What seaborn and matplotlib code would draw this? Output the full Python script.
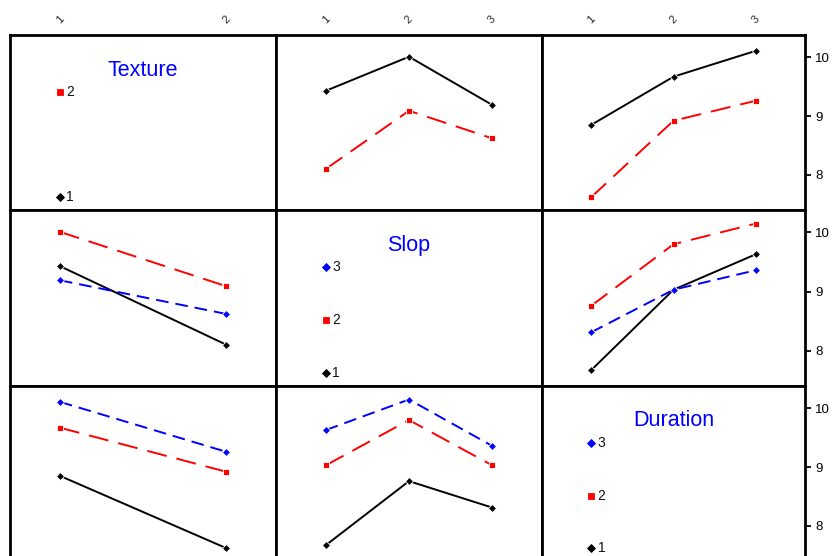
import matplotlib
matplotlib.use("Agg")
import matplotlib.pyplot as plt
import numpy as np
import pandas as pd
import seaborn as sns

# Factors and their levels
factors = ["Texture", "Slop", "Duration"]
texture_levels = ["1", "2"]
slop_levels = ["1", "2", "3"]
duration_levels = ["1", "2", "3"]

# Two-way cell means (rows: levels of first factor, cols: levels of second)
texture_by_slop = [[9.43, 10.01, 9.19],
                   [8.10, 9.09, 8.62]]
texture_by_duration = [[8.85, 9.67, 10.11],
                       [7.62, 8.92, 9.26]]
slop_by_duration = [[7.67, 9.03, 9.63],
                    [8.76, 9.80, 10.15],
                    [8.31, 9.03, 9.36]]

y_ticks = [8, 9, 10]

sns.set_theme(style="white")
plt.rcParams["font.family"] = ["Liberation Sans", "DejaVu Sans"]

levels = {"Texture": texture_levels, "Slop": slop_levels, "Duration": duration_levels}
tables = {
    ("Texture", "Slop"): np.array(texture_by_slop),
    ("Texture", "Duration"): np.array(texture_by_duration),
    ("Slop", "Duration"): np.array(slop_by_duration),
}


def cell_means(trace, xfac):
    if (trace, xfac) in tables:
        return tables[(trace, xfac)]
    return tables[(xfac, trace)].T


palette = {"1": "#000000", "2": "#FF0000", "3": "#0000FF"}
markers = {"1": "D", "2": "s", "3": "D"}
marker_size = {"D": 3.8, "s": 3.7}
dashes = {"1": "", "2": (10.3, 5.2), "3": (6.5, 3.6)}

W, H = 833, 556
fig = plt.figure(figsize=(W / 100, H / 100), dpi=100)
fig.patch.set_facecolor("white")

col_edges = [(10, 276), (276, 542), (542, 805)]
row_edges = [(35, 210), (210, 386), (386, 561)]
ylim = (7.40, 10.38)

for r, trace in enumerate(factors):
    for c, xfac in enumerate(factors):
        x0, x1 = col_edges[c]
        y0, y1 = row_edges[r]
        ax = fig.add_axes([x0 / W, 1 - y1 / H, (x1 - x0) / W, (y1 - y0) / H])
        ax.set_facecolor("white")
        nx = len(levels[xfac])
        if nx == 2:
            ax.set_xlim(0.7, 2.3)
        else:
            ax.set_xlim(0.4, nx + 0.6)
        ax.set_ylim(*ylim)

        if r != c:
            means = cell_means(trace, xfac)
            rows = []
            for k, tl in enumerate(levels[trace]):
                for m, xl in enumerate(levels[xfac]):
                    rows.append({"x": m + 1, "y": means[k, m], "trace": tl})
            df = pd.DataFrame(rows)
            sns.lineplot(data=df, x="x", y="y", hue="trace", style="trace",
                         palette=palette, markers=markers, dashes=dashes,
                         linewidth=1.4, markersize=3.8, markeredgewidth=0.6,
                         legend=False, ax=ax, sort=False)
            for ln in ax.lines:
                mk = ln.get_marker()
                if mk in marker_size:
                    ln.set_markersize(marker_size[mk])
        else:
            # factor name and its level key
            ax.text(0.5, 0.80, trace, transform=ax.transAxes, ha="center",
                    va="center", color="#0000FF", fontsize=15.5)
            tl = levels[trace]
            n = len(tl)
            for k, lev in enumerate(tl):
                yk = 0.074 + k * (0.60 / (n - 1))
                ax.plot([1], [yk], marker=markers[lev], color=palette[lev],
                        markersize=marker_size[markers[lev]], markeredgewidth=0.6,
                        linestyle="none", transform=ax.get_xaxis_transform())
                ax.annotate(lev, xy=(1, yk), xycoords=("data", "axes fraction"),
                            xytext=(4.5, 0), textcoords="offset points",
                            ha="left", va="center", fontsize=10, color="#111111")

        ax.set_xlabel("")
        ax.set_ylabel("")
        for sp in ax.spines.values():
            sp.set_visible(True)
            sp.set_color("black")
            sp.set_linewidth(2.0)

        ax.set_xticks(range(1, nx + 1))
        if r == 0:
            ax.xaxis.tick_top()
            ax.set_xticklabels(levels[xfac], rotation=45, fontsize=8)
            ax.tick_params(axis="x", which="both", length=0, pad=7)
        else:
            ax.set_xticklabels([])
            ax.tick_params(axis="x", length=0)

        ax.set_yticks(y_ticks)
        if c == 2:
            ax.yaxis.tick_right()
            ax.set_yticklabels([str(t) for t in y_ticks], fontsize=9.5)
            ax.tick_params(axis="y", which="both", length=4.5, width=1.3,
                           pad=3, colors="black", right=True, left=False)
        else:
            ax.set_yticklabels([])
            ax.tick_params(axis="y", length=0)

fig.savefig("out.png", dpi=100)
